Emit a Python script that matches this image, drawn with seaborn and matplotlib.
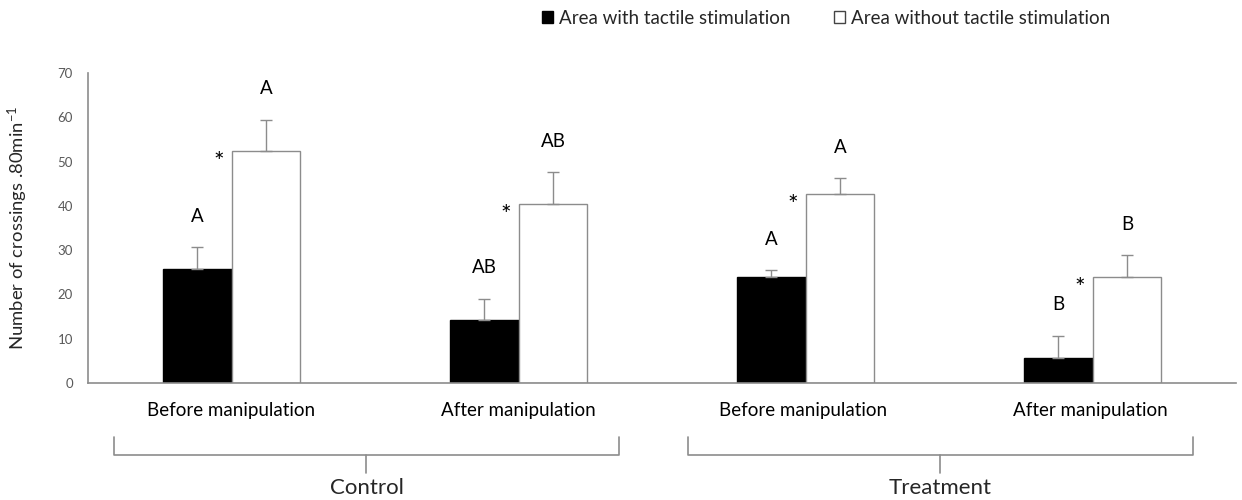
"""
Crossings per area, before/after manipulation, control vs treatment
"""
import numpy as np
import pandas as pd
import matplotlib
matplotlib.use("Agg")
import matplotlib.pyplot as plt
import seaborn as sns
from matplotlib.patches import Patch

# data
conditions = ["Before manipulation", "After manipulation",
              "Before manipulation ", "After manipulation "]
groups = ["Control", "Treatment"]
areas = ["Area with tactile stimulation", "Area without tactile stimulation"]
with_stim = [25.7, 14.2, 24.0, 5.7]
with_stim_err = [4.9, 4.8, 1.5, 5.0]
without_stim = [52.5, 40.5, 42.6, 24.0]
without_stim_err = [7.0, 7.1, 3.6, 4.9]
letters_with = ["A", "AB", "A", "B"]
letters_without = ["A", "AB", "A", "B"]

df = pd.DataFrame({
    "condition": conditions * 2,
    "area": [areas[0]] * 4 + [areas[1]] * 4,
    "crossings": with_stim + without_stim,
})

sns.set_theme(style="white")
plt.rcParams["font.family"] = ["Lato", "DejaVu Sans"]
plt.rcParams["mathtext.default"] = "regular"

fig = plt.figure(figsize=(12.42, 5.0), dpi=100)
ax = fig.add_axes([0.0709, 0.234, 0.9243, 0.62])

sns.barplot(data=df, x="condition", y="crossings", hue="area", order=conditions,
            hue_order=areas, palette=["black", "white"], width=0.48, gap=0,
            errorbar=None, legend=False, ax=ax)

grey = "#8c8c8c"
n = len(conditions)
patches = ax.patches[:2 * n]
for i, p in enumerate(patches):
    p.set_edgecolor("black" if i < n else grey)
    p.set_linewidth(1.0)

# one-sided error bars, letters and asterisks
means = with_stim + without_stim
errs = with_stim_err + without_stim_err
letters = letters_with + letters_without
for p, m, e, lab in zip(patches, means, errs, letters):
    xc = p.get_x() + p.get_width() / 2
    ax.errorbar(xc, m, yerr=[[0], [e]], fmt="none", ecolor=grey, elinewidth=1.0,
                capsize=4, capthick=1.0)
    ax.text(xc, m + e + 7.0, lab, ha="center", va="center", fontsize=13.5, color="black")
for p, m in zip(patches[n:], without_stim):
    ax.text(p.get_x() - 0.045, m - 2.6, "*", ha="center", va="center",
            fontsize=18, color="black")

ax.set_ylim(0, 70)
ax.set_xlim(-0.5, n - 0.5)
ax.set_yticks(np.arange(0, 71, 10))
ax.tick_params(axis="y", labelsize=9.5, labelcolor="#595959", length=0, pad=11)
ax.tick_params(axis="x", labelsize=13.5, labelcolor="black", length=0, pad=14)
ax.set_xlabel("")
ax.set_ylabel("Number of crossings .80min$^{-1}$", fontsize=13.3, labelpad=20)
for s in ["top", "right"]:
    ax.spines[s].set_visible(False)
for s in ["left", "bottom"]:
    ax.spines[s].set_color(grey)
    ax.spines[s].set_linewidth(1.2)

# braces under the category labels
trans = ax.get_xaxis_transform()
for gi, g in enumerate(groups):
    left = 2 * gi - 0.41
    right = 2 * gi + 1 + 0.35
    mid = (left + right) / 2
    ax.plot([left, left, right, right], [-0.174, -0.232, -0.232, -0.174],
            transform=trans, clip_on=False, color=grey, lw=1.2)
    ax.plot([mid, mid], [-0.232, -0.29], transform=trans, clip_on=False,
            color=grey, lw=1.2)
    ax.text(mid, -0.34, g, transform=trans, ha="center", va="center", fontsize=16)

handles = [Patch(facecolor="black", edgecolor="black"),
           Patch(facecolor="white", edgecolor="#444444")]
fig.legend(handles, areas, loc="center", bbox_to_anchor=(0.665, 0.963), ncol=2,
           frameon=False, fontsize=13.5, handlelength=0.6, handleheight=0.6,
           handletextpad=0.3, columnspacing=2.35)

fig.savefig("out.png", dpi=100)
